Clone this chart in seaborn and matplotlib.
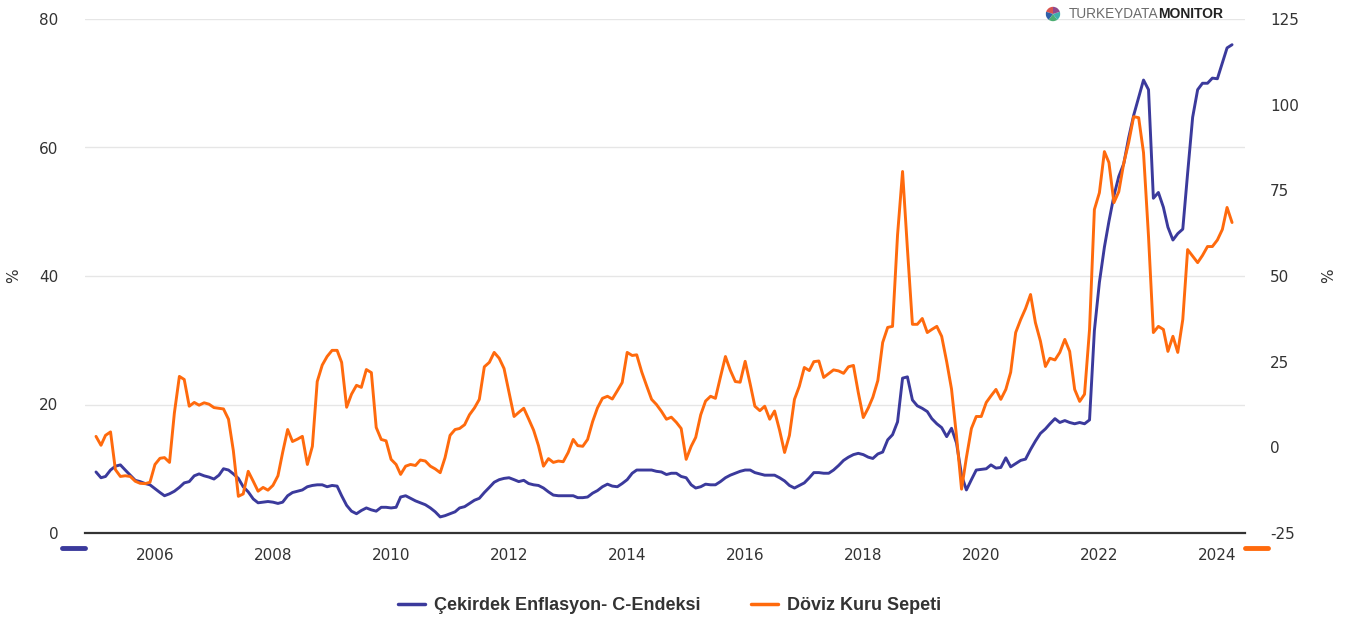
import matplotlib
matplotlib.use("Agg")
import pandas as pd
import matplotlib.pyplot as plt
import matplotlib.dates as mdates
from matplotlib.lines import Line2D
import seaborn as sns

# monthly series, Jan 2005 - Apr 2024
dates = pd.date_range("2005-01-01", periods=232, freq="MS")

# Çekirdek Enflasyon- C-Endeksi (left axis, %)
cekirdek = [
    9.5, 8.6, 8.8, 9.8, 10.4, 10.6, 9.8, 9.0, 8.2, 8.0, 7.7, 7.5,        # 2005
    6.9, 6.3, 5.8, 6.1, 6.5, 7.1, 7.8, 8.0, 8.9, 9.2, 8.9, 8.7,          # 2006
    8.4, 9.0, 10.0, 9.8, 9.2, 8.5, 7.2, 6.4, 5.3, 4.7, 4.8, 4.9,         # 2007
    4.8, 4.6, 4.8, 5.8, 6.3, 6.5, 6.7, 7.2, 7.4, 7.5, 7.5, 7.2,          # 2008
    7.4, 7.3, 5.8, 4.3, 3.4, 3.0, 3.5, 3.9, 3.6, 3.4, 4.0, 4.0,          # 2009
    3.9, 4.0, 5.6, 5.8, 5.4, 5.0, 4.7, 4.4, 3.9, 3.3, 2.5, 2.7,          # 2010
    3.0, 3.3, 3.9, 4.1, 4.6, 5.1, 5.4, 6.3, 7.1, 7.9, 8.3, 8.5,          # 2011
    8.6, 8.3, 8.0, 8.2, 7.7, 7.5, 7.4, 7.0, 6.4, 5.9, 5.8, 5.8,          # 2012
    5.8, 5.8, 5.5, 5.5, 5.6, 6.2, 6.6, 7.2, 7.6, 7.3, 7.2, 7.7,          # 2013
    8.3, 9.3, 9.8, 9.8, 9.8, 9.8, 9.6, 9.5, 9.1, 9.3, 9.3, 8.8,          # 2014
    8.6, 7.5, 7.0, 7.2, 7.6, 7.5, 7.5, 8.0, 8.6, 9.0, 9.3, 9.6,          # 2015
    9.8, 9.8, 9.4, 9.2, 9.0, 9.0, 9.0, 8.6, 8.1, 7.4, 7.0, 7.4,          # 2016
    7.8, 8.6, 9.4, 9.4, 9.3, 9.3, 9.8, 10.5, 11.3, 11.8, 12.2, 12.4,     # 2017
    12.2, 11.8, 11.6, 12.3, 12.6, 14.5, 15.3, 17.3, 24.1, 24.3, 20.7, 19.8,  # 2018
    19.4, 18.9, 17.8, 17.0, 16.4, 15.0, 16.3, 14.0, 9.0, 6.7, 8.3, 9.8,  # 2019
    9.9, 10.0, 10.6, 10.1, 10.2, 11.7, 10.3, 10.8, 11.3, 11.5, 13.0, 14.3,  # 2020
    15.5, 16.2, 17.0, 17.8, 17.2, 17.5, 17.2, 17.0, 17.2, 17.0, 17.6, 31.5,  # 2021
    39.0, 44.5, 48.5, 52.5, 55.5, 57.5, 61.5, 65.0, 67.8, 70.5, 69.0, 52.1,  # 2022
    53.0, 50.7, 47.6, 45.6, 46.6, 47.3, 56.0, 64.7, 69.0, 70.0, 70.0, 70.8,  # 2023
    70.7, 73.2, 75.5, 76.0,                                              # 2024
]

# Döviz Kuru Sepeti (right axis, %)
doviz = [
    3.2, 0.6, 3.5, 4.5, -6.5, -8.5, -8.3, -8.5, -9.9, -10.5, -10.6, -10.2,   # 2005
    -5.0, -3.2, -3.0, -4.4, 10.0, 20.7, 19.8, 12.0, 13.1, 12.3, 13.0, 12.6,  # 2006
    11.6, 11.4, 11.2, 8.2, -1.0, -14.3, -13.6, -7.0, -9.9, -12.8, -11.7, -12.5,  # 2007
    -11.1, -8.3, -1.5, 5.2, 1.7, 2.4, 3.2, -5.0, 0.3, 19.2, 24.0, 26.5,      # 2008
    28.3, 28.3, 24.8, 11.7, 15.5, 18.1, 17.5, 22.7, 21.8, 5.8, 2.3, 1.9,     # 2009
    -3.5, -5.0, -7.9, -5.5, -5.0, -5.3, -3.7, -4.0, -5.5, -6.3, -7.4, -3.0,  # 2010
    3.5, 5.2, 5.5, 6.6, 9.5, 11.5, 14.0, 23.5, 24.8, 27.7, 26.0, 23.0,       # 2011
    16.0, 9.0, 10.2, 11.4, 8.3, 5.0, 0.5, -5.5, -3.3, -4.4, -4.0, -4.2,      # 2012
    -1.5, 2.3, 0.5, 0.3, 2.3, 7.5, 11.5, 14.3, 14.9, 14.1, 16.5, 18.9,       # 2013
    27.7, 26.8, 27.0, 22.0, 18.0, 14.0, 12.5, 10.5, 8.2, 8.8, 7.3, 5.5,      # 2014
    -3.5, 0.3, 2.9, 9.5, 13.5, 14.9, 14.3, 20.5, 26.5, 22.5, 19.2, 19.0,     # 2015
    25.1, 18.5, 12.0, 10.7, 12.0, 8.2, 10.6, 5.0, -1.5, 3.5, 14.0, 17.8,     # 2016
    23.3, 22.4, 25.0, 25.2, 20.4, 21.5, 22.6, 22.3, 21.6, 23.5, 23.9, 16.0,  # 2017
    8.7, 11.5, 14.6, 19.5, 30.6, 35.0, 35.3, 62.0, 80.5, 58.0, 35.9, 35.9,   # 2018
    37.6, 33.5, 34.4, 35.3, 32.4, 25.0, 17.0, 3.2, -12.2, -3.0, 5.5, 9.0,    # 2019
    9.0, 13.1, 15.0, 16.9, 14.0, 16.9, 21.9, 33.5, 37.3, 40.5, 44.6, 36.4,   # 2020
    31.0, 23.6, 26.0, 25.5, 27.7, 31.5, 28.0, 16.9, 13.4, 15.5, 34.4, 69.4,  # 2021
    74.3, 86.3, 83.1, 71.4, 74.6, 83.0, 88.9, 96.5, 96.2, 86.0, 61.5, 33.5,  # 2022
    35.3, 34.4, 28.0, 32.4, 27.7, 37.3, 57.7, 55.8, 53.9, 56.0, 58.6, 58.6,  # 2023
    60.5, 63.6, 70.0, 65.6,                                                  # 2024
]

left_ticks = [0, 20, 40, 60, 80]
right_ticks = [-25, 0, 25, 50, 75, 100, 125]
label_blue = "Çekirdek Enflasyon- C-Endeksi"
label_orange = "Döviz Kuru Sepeti"

blue = "#3b3a9c"
orange = "#ff6a0d"
text_col = "#333333"

df = pd.DataFrame({"tarih": dates, "cekirdek": cekirdek, "doviz": doviz})

sns.set_style("white")
plt.rcParams["font.family"] = ["DejaVu Sans"]
plt.rcParams["axes.unicode_minus"] = False

W, H = 1358, 621
fig = plt.figure(figsize=(W / 100, H / 100), dpi=100)
ax = fig.add_axes([85 / W, 1 - 533 / H, 1160 / W, 514 / H])
ax2 = ax.twinx()

sns.lineplot(data=df, x="tarih", y="cekirdek", ax=ax, color=blue, linewidth=2.1)
sns.lineplot(data=df, x="tarih", y="doviz", ax=ax2, color=orange, linewidth=2.1)

ax.set_xlim(pd.Timestamp("2004-10-25"), pd.Timestamp("2024-06-20"))
ax.set_ylim(0, 80)
ax2.set_ylim(-25, 125)
ax.set_yticks(left_ticks)
ax2.set_yticks(right_ticks)

ax.xaxis.set_major_locator(mdates.YearLocator(2))
ax.xaxis.set_major_formatter(mdates.DateFormatter("%Y"))

# grid only from the left axis
ax.grid(axis="y", color="#e6e6e6", linewidth=1)
ax.grid(axis="x", visible=False)
ax2.grid(False)
ax.set_axisbelow(True)

for a in (ax, ax2):
    for s in ("top", "left", "right"):
        a.spines[s].set_visible(False)
ax2.spines["bottom"].set_visible(False)
ax.spines["bottom"].set_color("#333333")
ax.spines["bottom"].set_linewidth(1.6)

ax.tick_params(axis="x", colors="#ccd6eb", length=7.5, width=1, pad=3,
               labelcolor=text_col, labelsize=11)
ax.tick_params(axis="y", length=0, pad=19, labelcolor=text_col, labelsize=11)
ax2.tick_params(axis="y", length=0, pad=18, labelcolor=text_col, labelsize=11)

ax.set_xlabel("")
ax.set_ylabel("%", fontsize=11, color=text_col)
ax2.set_ylabel("%", fontsize=11, color=text_col, rotation=90)
ax.yaxis.set_label_coords(-0.055, 0.5)
ax2.yaxis.set_label_coords(1.066, 0.5)

# colored axis markers under the plot ends
fig.add_artist(Line2D([62 / W, 85 / W], [1 - 548 / H] * 2, color=blue, lw=3.5))
fig.add_artist(Line2D([1245 / W, 1268 / W], [1 - 548 / H] * 2, color=orange, lw=3.5))

# legend
handles = [Line2D([], [], color=blue, lw=2.5), Line2D([], [], color=orange, lw=2.5)]
fig.legend(handles, [label_blue, label_orange], loc="center",
           bbox_to_anchor=(0.493, 1 - 606 / H), ncol=2, frameon=False,
           prop={"family": "Liberation Sans", "weight": "bold", "size": 13},
           labelcolor=text_col, handlelength=1.5, handletextpad=0.5,
           columnspacing=2.8)

# logo
logo_ax = fig.add_axes([1044 / W, 1 - 23 / H, 18 / W, 18 / H])
logo_ax.pie([1, 1, 1, 1, 1], colors=["#d9534f", "#2e5fa8", "#4cae72", "#3fb0ac", "#8e4a8e"],
            startangle=90, wedgeprops={"linewidth": 0})
logo_ax.set_aspect("equal")
t2 = fig.text(1223 / W, 1 - 14 / H, "MONITOR", ha="right", va="center",
              fontsize=10, fontweight="bold", color="#222222", family="Liberation Sans")
fig.canvas.draw()
bb = t2.get_window_extent()
fig.text(bb.x0 / W, 1 - 14 / H, "TURKEYDATA", ha="right", va="center",
         fontsize=9.8, color="#6b6b6b", family="Liberation Sans")

fig.savefig("out.png", dpi=100)
